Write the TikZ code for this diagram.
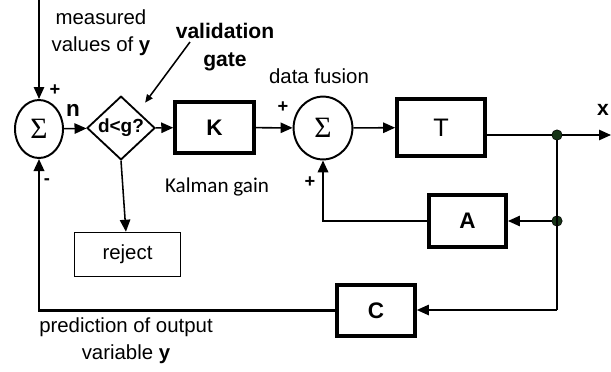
\documentclass[tikz,border=0pt]{standalone}
\usepackage{fontspec}
\setmainfont{Liberation Sans}
\newfontfamily\calibri{Carlito}
\newfontfamily\symfont{Liberation Serif}
\usetikzlibrary{arrows.meta,shapes.geometric}
\definecolor{dotgreen}{RGB}{22,52,22}

\begin{document}
\begin{tikzpicture}[x=0.025cm,y=-0.025cm,
  txt/.style={font=\fontsize{14.5}{19.5}\selectfont,align=center,inner sep=0pt},
  blk/.style={draw,line width=2.6pt,inner sep=0pt,font=\fontsize{16}{19}\selectfont\bfseries},
  sumnode/.style={draw,ellipse,line width=1.4pt,inner sep=0pt,font=\symfont\fontsize{21}{24}\selectfont},
  sgn/.style={font=\fontsize{13}{15}\selectfont\bfseries,inner sep=0pt},
  wire/.style={line width=1.1pt},
  arr/.style={wire,-{Triangle[length=0.3cm,width=0.26cm]}},
  junction/.style={circle,fill=dotgreen,draw=black,line width=0.4pt,minimum size=0.26cm,inner sep=0pt}]

\useasboundingbox (0,0) rectangle (611,371);

% Blocks
\node[sumnode,minimum width=1.2cm,minimum height=1.45cm] (sumy) at (39,129) {Σ};
\node[draw,diamond,line width=1.3pt,inner sep=0pt,minimum width=1.7cm,minimum height=1.52cm,
  font=\fontsize{13.5}{16}\selectfont\bfseries] (gate) at (121,128) {d<g?};
\node[blk,minimum width=1.97cm,minimum height=1.28cm] (kgain) at (214.5,127.5) {K};
\node[sumnode,minimum width=1.47cm,minimum height=1.57cm] (fusion) at (323,128) {Σ};
\node[blk,minimum width=2.2cm,minimum height=1.43cm,font=\fontsize{18}{21}\selectfont] (tbox) at (441,127.5) {T};
\node[blk,minimum width=1.93cm,minimum height=1.3cm] (abox) at (467.5,221) {A};
\node[blk,minimum width=1.95cm,minimum height=1.28cm] (cbox) at (376,310.5) {C};
\node[txt,draw,line width=1.1pt,minimum width=2.65cm,minimum height=1.1cm] (reject) at (127.5,254.5) {reject};

% Branch points
\node[junction] (d1) at (557,135) {};
\node[junction] (d2) at (557,221) {};
\coordinate (corner) at (557,310);
\coordinate (ytop) at (39,0);
\coordinate (xend) at (611,135);
\coordinate (gtail) at (190,42);

% Labels
\node[txt] (meas) at (101,33) {measured\\values of \textbf{y}};
\node[txt,font=\fontsize{15}{20.5}\selectfont\bfseries] (gatelbl) at (225,47) {validation\\gate};
\node[txt] (fuslbl) at (319,76) {data fusion};
\node[txt,font=\calibri\fontsize{15}{18}\selectfont] (klbl) at (217,187) {Kalman gain};
\node[txt] (predlbl) at (126,341) {prediction of output\\variable \textbf{y}};
\node[sgn] (p1) at (55,90) {+};
\node[sgn] (m1) at (47,182) {-};
\node[sgn,font=\fontsize{16}{18}\selectfont\bfseries] (nlbl) at (73,110) {n};
\node[sgn] (p2) at (283,107) {+};
\node[sgn] (p3) at (310,182) {+};
\node[sgn,font=\fontsize{15}{18}\selectfont\bfseries] (xlbl) at (603,110) {x};

% Signal path
\draw[arr] (ytop) -- (sumy);
\draw[arr] (sumy) -- (gate);
\draw[arr] (gate) -- (kgain);
\draw[arr] (kgain) -- (fusion);
\draw[arr] (fusion) -- (tbox);
\draw[wire] (tbox.east |- d1) -- (d1);
\draw[arr] (d1) -- (xend);
\draw[wire] (d1) -- (corner);
\draw[arr] (gate.south) -- (reject);
\draw[wire,-{Triangle[length=0.2cm,width=0.17cm]},shorten >=0.28cm] (gtail) -- (gate.north east);

% Feedback
\draw[arr] (d2) -- (abox);
\draw[arr] (corner) -- (cbox.east |- corner);
\draw[arr,line width=1.6pt] (abox.west) -| (fusion.south);
\draw[arr,line width=1.6pt] (cbox.west) -| (sumy.south);

\end{tikzpicture}
\end{document}
